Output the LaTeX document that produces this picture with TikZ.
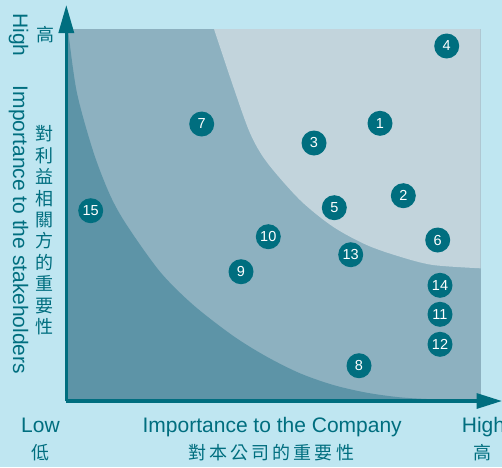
\documentclass[tikz,border=0pt]{standalone}
\usepackage{fontspec}
\setmainfont{Liberation Sans}
\newfontfamily\cjk{Noto Sans CJK TC}
\usetikzlibrary{arrows.meta}
\definecolor{bgblue}{HTML}{BFE6F1}
\definecolor{zlight}{HTML}{C2D4DC}
\definecolor{zmid}{HTML}{8DB1C0}
\definecolor{zdark}{HTML}{5D94A7}
\definecolor{teal}{HTML}{006E7F}
\tikzset{
  bubble/.style={circle,fill=teal,text=white,minimum size=25pt,inner sep=0pt,
    font=\fontsize{14.5}{14.5}\selectfont},
  axislabel/.style={text=teal,inner sep=0pt,font=\fontsize{21}{21}\selectfont},
  cjklabel/.style={text=teal,inner sep=0pt,font=\cjk\fontsize{18}{21.4}\selectfont},
  axisline/.style={draw=teal,line width=3.2pt}
}
\begin{document}
\begin{tikzpicture}[x=1pt,y=-1pt]
\useasboundingbox (0,0) rectangle (502,467);
\fill[bgblue] (0,0) rectangle (502,467);
% zones
\fill[zmid] (66,29) rectangle (480.7,401);
\fill[zdark] (66,29) -- plot[smooth] coordinates {(68,29) (76.7,91.7) (93.3,151.7) (110,195) (126.7,225) (160,271.7) (193.3,305) (233.3,336) (266.7,356.7) (300,373.3) (333.3,385) (366.7,392.7) (400,397.3) (433,399.3) (480.7,401)} -- (66,401) -- cycle;
\fill[zlight] plot[smooth] coordinates {(214,29) (233.3,86.7) (250,133) (266.7,162) (300,200) (333,226.7) (366.7,245) (400,256.7) (433,265) (480.7,268.3)} -- (480.7,29) -- cycle;
% axes
\coordinate (O) at (66.3,401);
\coordinate (ytip) at (66.3,5);
\coordinate (xtip) at (502,401);
\draw[axisline,-{Triangle[length=28pt,width=15pt]}] (O) -- (ytip);
\draw[axisline,-{Triangle[length=25.5pt,width=15pt]}] (O) -- (xtip);
% bubbles
\node[bubble] (b1) at (380,123.3) {1};
\node[bubble] (b2) at (403.3,195.7) {2};
\node[bubble] (b3) at (314,143) {3};
\node[bubble] (b4) at (446.7,46) {4};
\node[bubble] (b5) at (334.3,207.7) {5};
\node[bubble] (b6) at (437.7,240) {6};
\node[bubble] (b7) at (201.7,124) {7};
\node[bubble] (b8) at (359,365.7) {8};
\node[bubble] (b9) at (241,271.7) {9};
\node[bubble] (b10) at (268.3,236.7) {10};
\node[bubble] (b11) at (440,314.3) {11};
\node[bubble] (b12) at (440,344.3) {12};
\node[bubble] (b13) at (350.7,254.7) {13};
\node[bubble] (b14) at (440,285.3) {14};
\node[bubble] (b15) at (90.7,210.7) {15};
% axis labels
\node[axislabel,rotate=-90] (yhigh) at (18.5,35) {High};
\node[axislabel,rotate=-90] (ytitle) at (18.5,230) {Importance to the stakeholders};
\node[cjklabel] (yhighc) at (45,35) {高};
\node[cjklabel,align=center] (ytitlec) at (44.5,230.3) {對\\利\\益\\相\\關\\方\\的\\重\\要\\性};
\node[axislabel,anchor=base] (xlow) at (40.5,432.3) {Low};
\node[cjklabel] (xlowc) at (40,452.5) {低};
\node[axislabel,anchor=base] (xtitle) at (272.2,432.3) {Importance to the Company};
\node[cjklabel] (xtitlec) at (271.3,452.5) {\addfontfeature{LetterSpace=17}對本公司的重要性};
\node[axislabel,anchor=base west] (xhigh) at (461.7,432.3) {High};
\node[cjklabel] (xhighc) at (482,452.5) {高};
\end{tikzpicture}
\end{document}
